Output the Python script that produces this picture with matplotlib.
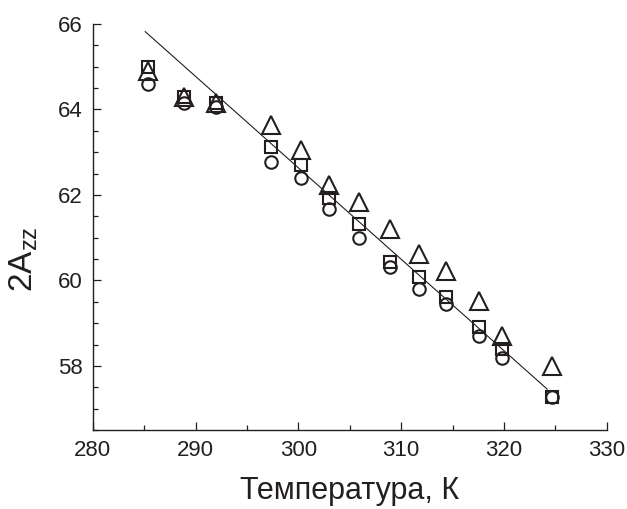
import matplotlib
matplotlib.use("Agg")
import matplotlib.pyplot as plt
from matplotlib.ticker import MultipleLocator

plt.rcParams['font.family'] = ['Liberation Sans', 'DejaVu Sans']

temperature = [285.4, 288.9, 292.0, 297.3, 300.3, 303.0, 305.9, 308.9, 311.7, 314.4, 317.6, 319.8, 324.7]
circles = [64.59, 64.16, 64.05, 62.77, 62.39, 61.66, 60.99, 60.31, 59.81, 59.45, 58.69, 58.19, 57.28]
squares = [65.0, 64.3, 64.15, 63.11, 62.70, 61.92, 61.31, 60.43, 60.08, 59.61, 58.91, 58.40, 57.28]
triangles = [64.9, 64.3, 64.16, 63.63, 63.05, 62.23, 61.84, 61.21, 60.63, 60.22, 59.52, 58.71, 58.01]
fit_x = [285.1, 324.2]
fit_y = [65.82, 57.46]

ink = '#231f20'

fig = plt.figure(figsize=(6.27, 5.09), dpi=100)
ax = fig.add_axes([0.148, 0.155, 0.8197, 0.798])

ax.plot(fit_x, fit_y, color=ink, lw=0.8, zorder=1)
mk = dict(linestyle='none', markerfacecolor='none', markeredgecolor=ink, markeredgewidth=1.5, zorder=2)
ax.plot(temperature, squares, marker='s', markersize=8.6, **mk)
ax.plot(temperature, circles, marker='o', markersize=9.0, **mk)
ax.plot(temperature, triangles, marker='^', markersize=13, **mk)

ax.set_xlim(280, 330)
ax.set_ylim(56.5, 66)
ax.xaxis.set_major_locator(MultipleLocator(10))
ax.xaxis.set_minor_locator(MultipleLocator(5))
ax.yaxis.set_major_locator(MultipleLocator(2))
ax.yaxis.set_minor_locator(MultipleLocator(0.5))

for s in ['top', 'right']:
    ax.spines[s].set_visible(False)
for s in ['left', 'bottom']:
    ax.spines[s].set_linewidth(1.0)
    ax.spines[s].set_color(ink)

ax.tick_params(which='both', direction='in', color=ink, width=0.9, labelcolor=ink)
ax.tick_params(which='major', length=6, labelsize=16, pad=7)
ax.tick_params(which='minor', length=3.5)

ax.set_xlabel('Температура, К', fontsize=22, color=ink, labelpad=11)
ax.set_ylabel(r'2A$_{\mathregular{zz}}$', fontsize=24, color=ink)
ax.yaxis.set_label_coords(-0.103, 0.42)

fig.savefig('out.png', dpi=100)
